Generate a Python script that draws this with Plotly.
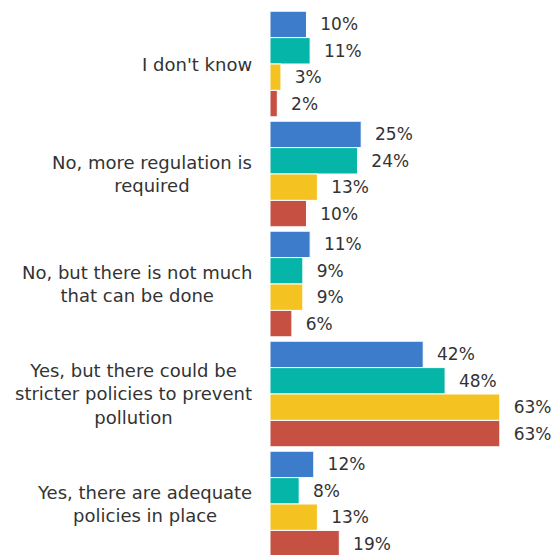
import plotly.graph_objects as go

categories = [
    "I don't know",
    "No, more regulation is<br>required",
    "No, but there is not much<br>that can be done",
    "Yes, but there could be<br>stricter policies to prevent<br>pollution",
    "Yes, there are adequate<br>policies in place",
]
series_names = ["Series 1", "Series 2", "Series 3", "Series 4"]
series_values = [
    [10, 25, 11, 42, 12],
    [11, 24, 9, 48, 8],
    [3, 13, 9, 63, 13],
    [2, 10, 6, 63, 19],
]
colors = ["#3d7ccb", "#05b5a8", "#f4c322", "#c65042"]

FONT = "DejaVu Sans"
TXT = "#333333"

fig = go.Figure()
for name, vals, col in zip(series_names, series_values, colors):
    fig.add_trace(go.Bar(
        y=categories, x=vals, name=name, orientation="h",
        marker=dict(color=col, line=dict(color="white", width=1)),
        text=[f"\u00a0\u00a0{v}%" for v in vals],
        textposition="outside", cliponaxis=False, constraintext="none",
        textfont=dict(family=FONT, size=17, color=TXT),
        hoverinfo="skip",
    ))

annotations = []
for cat in categories:
    annotations.append(dict(
        x=0, xref="paper", y=cat, yref="y", xanchor="right", yanchor="middle",
        xshift=-16, text=cat, showarrow=False, align="center",
        font=dict(family=FONT, size=18, color=TXT),
    ))

fig.update_layout(
    width=556, height=560,
    margin=dict(l=270, r=0, t=9, b=1),
    barmode="group", bargap=0.04, bargroupgap=0,
    plot_bgcolor="white", paper_bgcolor="white",
    showlegend=False,
    xaxis=dict(range=[0, 78.4], visible=False),
    yaxis=dict(autorange="reversed", showticklabels=False, showgrid=False,
               zeroline=False, showline=False, ticks=""),
    annotations=annotations,
    font=dict(family=FONT),
)

fig.write_html(
    "out.html",
    config={"displayModeBar": False},
    post_script="document.body.style.margin='0';document.body.style.overflow='hidden';",
)
